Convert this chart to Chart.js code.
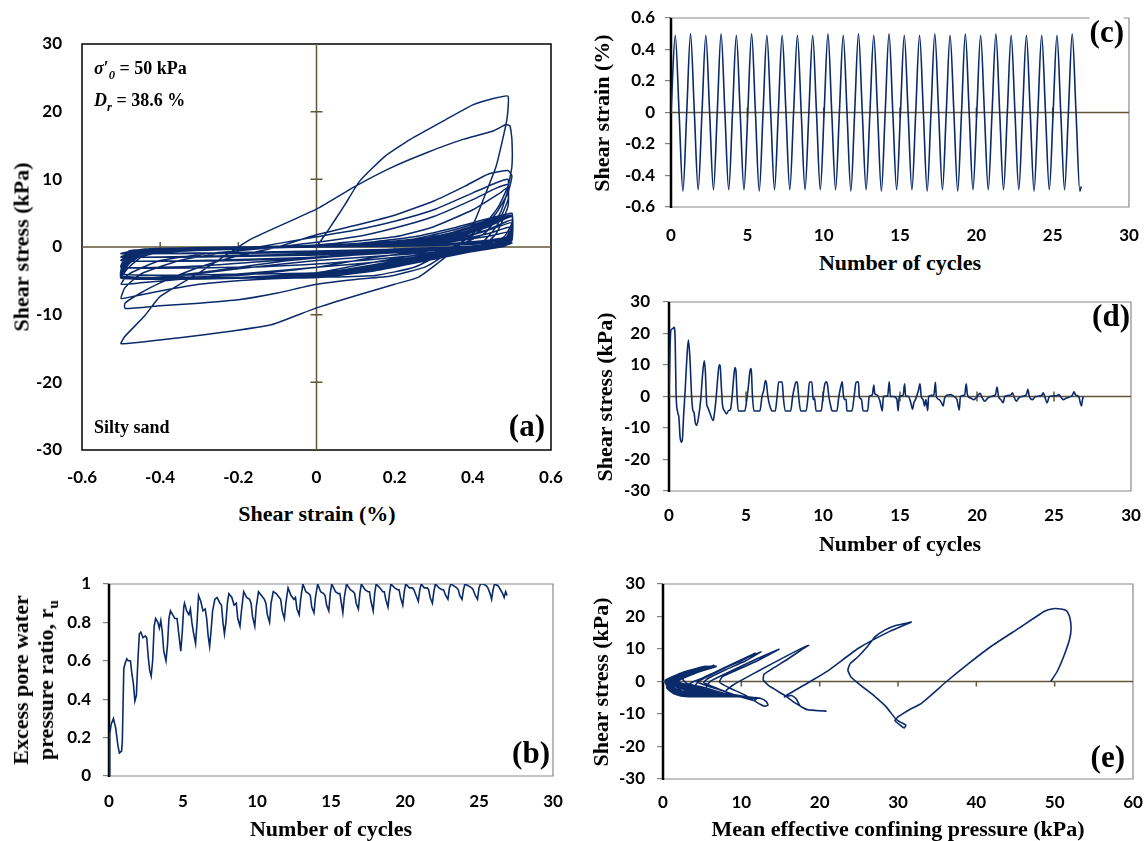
<!DOCTYPE html>
<html lang="en">
<head>
<meta charset="UTF-8">
<title>Cyclic simple shear - silty sand</title>
<script src="https://cdn.jsdelivr.net/npm/chart.js"></script>
<style>
  body { margin: 0; background: #fff; }
  #page {
    position: relative; width: 1146px; height: 841px; overflow: hidden; background: #fff;
    font-family: "Liberation Serif", "Times New Roman", serif; font-weight: bold; color: #000;
  }
  #page canvas { position: absolute; }
  .t { position: absolute; white-space: nowrap; font-size: 22px; line-height: 25px; text-align: center;
       transform: translate(-50%, -50%); }
  .t.rot { transform: translate(-50%, -50%) rotate(-90deg); }
  .tag { position: absolute; font-size: 31px; line-height: 31px; white-space: nowrap;
         transform: translate(-100%, -50%); }
  .note { position: absolute; font-size: 18px; line-height: 18px; white-space: nowrap;
          transform: translateY(-50%); }
  sub { font-size: 70%; line-height: 0; }
</style>
</head>
<body>
<div id="page">
  <canvas id="chartA" width="561" height="465" style="left:12px;top:30px"></canvas>
  <canvas id="chartC" width="534" height="241" style="left:611px;top:6px"></canvas>
  <canvas id="chartD" width="536" height="243" style="left:609px;top:288px"></canvas>
  <canvas id="chartB" width="530" height="244" style="left:39px;top:572px"></canvas>
  <canvas id="chartE" width="542" height="247" style="left:603px;top:572px"></canvas>

  <!-- axis titles -->
  <div class="t" style="left:317px;top:513px">Shear strain (%)</div>
  <div class="t rot" style="left:21px;top:247px">Shear stress (kPa)</div>
  <div class="t" style="left:900px;top:262px">Number of cycles</div>
  <div class="t rot" style="left:601px;top:113px">Shear strain (%)</div>
  <div class="t" style="left:900px;top:543px">Number of cycles</div>
  <div class="t rot" style="left:604px;top:397px">Shear stress (kPa)</div>
  <div class="t" style="left:331px;top:828px">Number of cycles</div>
  <div class="t rot" style="left:33px;top:680px">Excess pore water<br>pressure ratio, r<sub>u</sub></div>
  <div class="t" style="left:898px;top:828px">Mean effective confining pressure (kPa)</div>
  <div class="t rot" style="left:600px;top:682px">Shear stress (kPa)</div>

  <!-- notes and panel tags -->
  <div class="note" style="left:94px;top:68px"><i>σ</i>′<sub><i>0</i></sub> = 50 kPa</div>
  <div class="note" style="left:94px;top:100px"><i>D</i><sub><i>r</i></sub> = 38.6 %</div>
  <div class="note" style="left:94px;top:427px">Silty sand</div>
  <div class="tag" style="left:545px;top:425px">(a)</div>
  <div class="tag" style="left:1124px;top:31px;background:#fff">(c)</div>
  <div class="tag" style="left:1130px;top:315px">(d)</div>
  <div class="tag" style="left:550px;top:752px">(b)</div>
  <div class="tag" style="left:1125px;top:756px">(e)</div>
</div>

<script>
// (a) shear strain (%) vs shear stress (kPa), in test order
const strainStressLoops = [
  [0,0],[0.03,2.5],[0.07,6],[0.11,9.7],[0.175,13.4],[0.24,15.9],[0.33,18.8],[0.4,21],[0.45,21.9],[0.49,22.3],
  [0.487,18.8],[0.46,12],[0.43,7.5],[0.406,4],[0.37,0.5],[0.33,-1.5],[0.26,-4.5],[0.2,-5.5],[0.1,-7.2],[0,-9],[-0.116,-11.5],[-0.225,-12.5],[-0.35,-13.4],[-0.5,-14.3],
  [-0.49,-13.2],[-0.44,-10.2],[-0.4,-7.3],[-0.3,-3.8],[-0.17,1.1],[0,5.6],[0.1,9],[0.19,11.7],[0.28,13.9],[0.375,15.9],[0.45,17.1],[0.485,18.1],[0.495,17.9],
  [0.5,15.9],[0.5,11.9],[0.49,9],[0.466,6],[0.44,4],[0.4,2],[0.36,0.1],[0.28,-2.9],[0.19,-4.3],[0.1,-4.8],[0,-5.5],[-0.1,-6.8],[-0.2,-7.8],[-0.3,-8.3],[-0.4,-8.7],[-0.49,-9.1],
  [-0.49,-8.3],[-0.45,-6.8],[-0.4,-5.3],[-0.3,-3],[-0.2,-1.3],[-0.1,0],[0,1.8],[0.1,3.2],[0.2,4.7],[0.3,6.8],[0.38,9],[0.44,10.8],[0.49,11.3],
  [0.5,10.5],[0.49,8],[0.46,5],[0.42,2.5],[0.35,0],[0.25,-3],[0.15,-4.2],[0,-4.5],[-0.15,-4.8],[-0.3,-5.5],[-0.4,-6.5],[-0.47,-7.3],[-0.5,-7.6],
  [-0.49,-6],[-0.45,-4],[-0.35,-2],[-0.2,-0.5],[0,1.5],[0.1,2.5],[0.2,3.8],[0.3,5.5],[0.4,8],[0.46,9.5],[0.49,10],
  [0.49,8.5],[0.47,5],[0.43,2],[0.35,0],[0.25,-1.5],[0.1,-2.5],[-0.1,-3.5],[-0.3,-4.5],[-0.45,-5.3],[-0.5,-5.5],
  [-0.48,-4],[-0.4,-2],[-0.25,-0.8],[-0.1,0],[0.1,1.5],[0.2,2.8],[0.3,4.5],[0.4,7],[0.46,8.7],[0.49,9.2],
  [0.49,7],[0.46,3],[0.42,0.5],[0.35,-0.5],[0.2,-1.2],[0,-2],[-0.2,-3.2],[-0.35,-4.3],[-0.45,-4.6],[-0.5,-4.6],
  [-0.48,-2],[-0.4,-0.8],[-0.2,-0.3],[0,0.3],[0.2,1.5],[0.3,3],[0.4,5.5],[0.47,8],[0.49,8.8],
  [0.49,6],[0.46,2],[0.42,0],[0.3,-0.5],[0.1,-1.2],[-0.1,-2.2],[-0.3,-3.8],[-0.42,-4.5],[-0.5,-4.6],
  [-0.48,-3],[-0.44,-1.2],[-0.3,-0.4],[-0.1,0],[0.1,0.5],[0.25,1.5],[0.35,2.8],[0.44,4.2],[0.5,5],
  [0.5,3.5],[0.48,1.5],[0.42,0.2],[0.3,-0.8],[0.15,-2.2],[0,-3.8],[-0.2,-4.5],[-0.5,-4.6],
  [-0.48,-2.5],[-0.44,-1],[-0.3,-0.3],[-0.1,0],[0.1,0.4],[0.25,1.2],[0.35,2.5],[0.44,4],[0.5,4.7],
  [0.5,3],[0.48,1],[0.42,0],[0.3,-1],[0.15,-2.6],[0,-4],[-0.2,-4.6],[-0.5,-4.6],
  [-0.48,-2.2],[-0.44,-0.8],[-0.3,-0.2],[-0.1,0.1],[0.1,0.3],[0.25,1],[0.35,2.2],[0.44,3.8],[0.5,4.7],
  [0.5,2.5],[0.48,0.8],[0.42,-0.1],[0.3,-1.2],[0.15,-2.8],[0,-4.2],[-0.2,-4.6],[-0.5,-4.6],
  [-0.48,-2],[-0.44,-0.7],[-0.3,-0.2],[-0.1,0],[0.1,0.2],[0.25,0.9],[0.35,2],[0.44,3.6],[0.5,4.7],
  [0.5,2.2],[0.48,0.6],[0.42,-0.2],[0.3,-1.4],[0.15,-3],[0,-4.3],[-0.2,-4.6],[-0.5,-4.6],
  [-0.48,-1.8],[-0.44,-0.6],[-0.3,-0.3],[-0.1,-0.1],[0.1,0.2],[0.25,0.8],[0.35,1.8],[0.44,3.4],[0.5,4.7],
  [0.5,2],[0.48,0.5],[0.42,-0.3],[0.3,-1.5],[0.15,-3.2],[0,-4.4],[-0.2,-4.6],[-0.5,-4.6],
  [-0.48,-1.6],[-0.44,-0.5],[-0.3,-0.2],[-0.1,0],[0.1,0.1],[0.25,0.7],[0.35,1.6],[0.44,3.3],[0.5,4.7],
  [0.5,1.8],[0.48,0.4],[0.42,-0.3],[0.3,-1.6],[0.15,-3.3],[0,-4.5],[-0.2,-4.6],[-0.5,-4.6],
  [-0.48,-1.5],[-0.44,-0.5],[-0.3,-0.3],[-0.1,-0.1],[0.1,0.1],[0.25,0.6],[0.35,1.5],[0.44,3.2],[0.5,4.7],
  [0.5,1.6],[0.48,0.3],[0.42,-0.4],[0.3,-1.8],[0.15,-3.5],[0,-4.5],[-0.2,-4.6],[-0.5,-4.6],
  [-0.48,-1.4],[-0.44,-0.5],[-0.3,-0.2],[-0.1,0],[0.1,0.1],[0.25,0.5],[0.35,1.2],[0.44,2.5],[0.5,3.6],
  [0.5,1.5],[0.48,0.3],[0.42,-0.3],[0.3,-1.5],[0.15,-3],[0,-4.3],[-0.2,-4.6],[-0.5,-4.6],
  [-0.48,-1.3],[-0.44,-0.4],[-0.3,-0.2],[-0.1,0],[0.1,0.1],[0.25,0.5],[0.35,1.3],[0.44,3],[0.5,4.7],
  [0.5,1.4],[0.48,0.2],[0.42,-0.4],[0.3,-1.7],[0.15,-3.4],[0,-4.4],[-0.2,-4.6],[-0.5,-4.6],
  [-0.48,-1.2],[-0.44,-0.4],[-0.3,-0.2],[-0.1,0],[0.1,0.1],[0.25,0.4],[0.35,1.1],[0.44,2.6],[0.5,4],
  [0.5,1.2],[0.48,0.2],[0.42,-0.4],[0.3,-1.4],[0.15,-2.8],[0,-3.8],[-0.2,-4],[-0.5,-4],
  [-0.48,-1.1],[-0.44,-0.4],[-0.3,-0.2],[-0.1,0],[0.1,0.1],[0.25,0.4],[0.35,1.1],[0.44,2.6],[0.5,4],
  [0.5,1],[0.48,0.1],[0.42,-0.5],[0.3,-1.6],[0.15,-3],[0,-4.2],[-0.2,-4.5],[-0.5,-4.5],
  [-0.48,-1],[-0.44,-0.4],[-0.3,-0.2],[-0.1,0],[0.1,0.2],[0.25,0.5],[0.35,1.3],[0.44,3],[0.5,4.5],
  [0.5,1],[0.48,0.1],[0.42,-0.3],[0.3,-1],[0.15,-1.8],[0,-2.5],[-0.2,-3],[-0.5,-3],
  [-0.48,-0.8],[-0.44,-0.3],[-0.3,-0.1],[0,0],[0.25,0.2],[0.44,0.5],[0.5,0.6],
  [0.48,0.2],[0.3,-0.5],[0.15,-1.5],[0,-3],[-0.2,-4.2],[-0.5,-4.3],
  [-0.48,-0.6],[-0.3,-0.2],[0,0],[0.25,0.4],[0.35,1],[0.44,2.5],[0.5,4],
  [0.5,1],[0.48,0.2],[0.3,-0.3],[0,-0.8],[-0.5,-1],
  [-0.44,-0.4],[-0.2,-0.1],[0.2,0.2],[0.44,0.7],[0.5,1],
  [0.46,0.2],[0.2,-0.4],[0,-1],[-0.5,-1.5],
  [-0.44,-0.5],[-0.2,-0.1],[0.2,0.3],[0.35,0.9],[0.44,2],[0.5,3],
  [0.48,0.6],[0.3,-0.3],[0.1,-1.2],[-0.2,-2],[-0.5,-2],
  [-0.44,-0.4],[-0.2,0],[0.2,0.2],[0.44,0.8],[0.5,1.2],
  [0.46,0.2],[0.2,-0.5],[0,-1.2],[-0.5,-1.5],
  [-0.44,-0.3],[0,0],[0.3,0.5],[0.44,1.6],[0.5,2.3],
  [0.47,0.4],[0.2,-0.3],[0,-0.8],[-0.5,-1],
  [-0.44,-0.4],[0,0],[0.3,0.3],[0.5,1.2],
  [0.46,0.2],[0.2,-0.6],[0,-1.5],[-0.3,-2],[-0.5,-2],
  [-0.44,-0.3],[0,0],[0.3,0.2],[0.5,0.6],
  [0.4,0],[0,-0.6],[-0.5,-1],
  [-0.44,-0.3],[0,0],[0.3,0.4],[0.44,1],[0.5,1.5],
  [0.46,0.3],[0.2,-0.5],[0,-1.5],[-0.3,-2.8],[-0.49,-3],[-0.47,-1.5]
];

// (c) number of cycles vs shear strain (%)
const strainHistory = [
  [0,0],[0.28,0.49],[0.53,0],[0.78,-0.5],
  [1.03,0],[1.28,0.5],[1.53,0],[1.78,-0.49],
  [2.03,0],[2.28,0.49],[2.53,0],[2.78,-0.49],
  [3.03,0],[3.28,0.5],[3.53,0],[3.78,-0.49],
  [4.03,0],[4.28,0.49],[4.53,0],[4.78,-0.49],
  [5.03,0],[5.28,0.5],[5.53,0],[5.78,-0.5],
  [6.03,0],[6.28,0.49],[6.53,0],[6.78,-0.49],
  [7.03,0],[7.28,0.49],[7.53,0],[7.78,-0.49],
  [8.03,0],[8.28,0.49],[8.53,0],[8.78,-0.49],
  [9.03,0],[9.28,0.49],[9.53,0],[9.78,-0.49],
  [10.03,0],[10.28,0.5],[10.53,0],[10.78,-0.49],
  [11.03,0],[11.28,0.49],[11.53,0],[11.78,-0.5],
  [12.03,0],[12.28,0.5],[12.53,0],[12.78,-0.49],
  [13.03,0],[13.28,0.49],[13.53,0],[13.78,-0.5],
  [14.03,0],[14.28,0.5],[14.53,0],[14.78,-0.49],
  [15.03,0],[15.28,0.49],[15.53,0],[15.78,-0.49],
  [16.03,0],[16.28,0.49],[16.53,0],[16.78,-0.5],
  [17.03,0],[17.28,0.5],[17.53,0],[17.78,-0.49],
  [18.03,0],[18.28,0.49],[18.53,0],[18.78,-0.5],
  [19.03,0],[19.28,0.5],[19.53,0],[19.78,-0.49],
  [20.03,0],[20.28,0.49],[20.53,0],[20.78,-0.49],
  [21.03,0],[21.28,0.5],[21.53,0],[21.78,-0.49],
  [22.03,0],[22.28,0.49],[22.53,0],[22.78,-0.49],
  [23.03,0],[23.28,0.49],[23.53,0],[23.78,-0.5],
  [24.03,0],[24.28,0.49],[24.53,0],[24.78,-0.49],
  [25.03,0],[25.28,0.49],[25.53,0],[25.78,-0.49],
  [26.03,0],[26.28,0.5],[26.53,0],[26.78,-0.5],[26.87,-0.47]
];

// (d) number of cycles vs shear stress (kPa)
const stressHistory = [
  [0,0],[0.07,15.8],[0.12,21],[0.25,21.5],[0.33,22],[0.4,18],[0.46,0.9],[0.56,-4.9],[0.64,-6.5],[0.72,-12.9],[0.82,-14.5],[0.88,-13],[0.95,-6],
  [1.05,2],[1.14,10.4],[1.26,17.9],[1.36,12],[1.47,0],[1.55,-4.4],[1.62,-5],[1.71,-8.4],[1.79,-9.2],[1.92,-6.5],
  [2.06,-1],[2.18,7],[2.29,11.3],[2.36,8],[2.45,-2.5],[2.51,-3.4],[2.63,-4.9],[2.87,-7.6],[2.96,-5],
  [3.05,-1],[3.15,5],[3.26,10.1],[3.32,9.8],[3.4,3],[3.48,-3],[3.6,-4.5],[3.74,-5.5],[3.86,-4.5],[4.0,-4],
  [4.1,0],[4.2,6],[4.28,9.2],[4.35,8],[4.42,0],[4.5,-4.6],[4.92,-4.6],
  [5.05,-1],[5.15,3],[5.29,8.9],[5.34,8.6],[5.42,0],[5.52,-4.6],[5.9,-4.6],
  [6.04,0],[6.15,2],[6.26,5.1],[6.32,4.5],[6.42,0],[6.55,-3],[6.7,-4.6],[6.9,-4.6],
  [7.02,0],[7.12,4.6],[7.35,4.6],[7.42,0],[7.55,-4.6],[7.9,-4.6],
  [8.03,0],[8.15,3],[8.25,4.7],[8.33,4.4],[8.42,0],[8.55,-4.6],[8.9,-4.6],
  [9.03,0],[9.12,4.6],[9.28,4.6],[9.36,-1],[9.45,-0.5],[9.55,-4.6],[9.88,-4.6],
  [10.0,0],[10.12,4],[10.22,4.7],[10.3,3.5],[10.38,0],[10.5,-3],[10.6,-4.6],[10.9,-4.6],
  [11.03,0],[11.15,3],[11.25,4.7],[11.32,0.5],[11.4,-1],[11.5,-0.8],[11.55,-4.6],[11.88,-4.6],
  [12.02,0],[12.15,4.5],[12.3,4.7],[12.36,0],[12.5,-1],[12.6,-4.5],[12.9,-4.6],
  [13.0,0],[13.2,0.5],[13.3,3.6],[13.36,1],[13.5,0.5],[13.7,-1.5],[13.85,-4.6],
  [13.92,0],[14.2,0.2],[14.3,4.7],[14.38,0],[14.6,0],[14.8,-1],[14.88,-4.6],
  [14.95,0],[15.2,0.3],[15.3,4],[15.36,0.3],[15.55,0],[15.7,-2],[15.82,-4],[15.9,-2],
  [16.0,-1],[16.2,2],[16.3,4],[16.38,0],[16.5,-1],[16.6,-3],[16.68,-1],[16.8,-4.5],
  [16.86,0],[17.2,0.5],[17.3,4.5],[17.36,0],[17.55,-1],[17.7,-2],[17.8,-3],[17.9,-0.5],
  [18.1,0.5],[18.3,0.6],[18.5,0],[18.7,-1],[18.85,-4.3],
  [18.92,0],[19.2,0.5],[19.3,4],[19.38,0.5],[19.6,-0.5],[19.8,-1],
  [20.0,0],[20.2,1],[20.35,-0.5],[20.5,-1.5],[20.7,-0.5],[20.9,0],
  [21.2,0.5],[21.3,3],[21.4,0],[21.55,-1],[21.7,-2],[21.8,0],
  [22.2,0.5],[22.3,1.2],[22.4,0],[22.55,-1.5],[22.7,-0.5],[22.9,0],
  [23.2,0.5],[23.3,2.3],[23.4,0],[23.6,-1],[23.8,0],
  [24.2,0.3],[24.3,1.2],[24.4,0],[24.55,-2],[24.7,0],
  [25.2,0.3],[25.3,0.6],[25.5,-0.5],[25.6,-1],[25.8,-0.5],[26.0,-0.2],
  [26.2,0.5],[26.3,1.5],[26.4,0.5],[26.6,0],[26.78,-3],[26.85,-1],[26.9,0]
];

// (b) number of cycles vs excess pore water pressure ratio
const poreRatioHistory = [
  [0,0],[0.05,0.22],[0.15,0.27],[0.3,0.3],[0.45,0.25],[0.6,0.16],[0.7,0.12],[0.85,0.13],[0.9,0.18],
  [1.0,0.56],[1.1,0.59],[1.2,0.61],[1.3,0.6],[1.45,0.6],[1.55,0.53],[1.65,0.48],[1.75,0.39],[1.85,0.42],[1.95,0.6],
  [2.05,0.74],[2.15,0.75],[2.3,0.72],[2.45,0.73],[2.55,0.72],[2.65,0.62],[2.75,0.55],[2.85,0.52],[2.95,0.6],
  [3.05,0.78],[3.15,0.82],[3.3,0.8],[3.4,0.77],[3.5,0.81],[3.6,0.75],[3.7,0.65],[3.85,0.6],[3.95,0.68],
  [4.05,0.82],[4.15,0.86],[4.3,0.84],[4.45,0.82],[4.6,0.82],[4.7,0.75],[4.85,0.65],[4.95,0.75],
  [5.05,0.88],[5.1,0.9],[5.25,0.86],[5.4,0.84],[5.5,0.87],[5.6,0.8],[5.7,0.75],[5.85,0.69],[5.95,0.8],
  [6.05,0.94],[6.2,0.91],[6.35,0.86],[6.5,0.87],[6.6,0.82],[6.7,0.73],[6.8,0.675],[6.9,0.76],
  [7.0,0.86],[7.15,0.92],[7.3,0.93],[7.5,0.9],[7.6,0.89],[7.7,0.8],[7.8,0.74],[7.9,0.8],
  [8.0,0.9],[8.1,0.95],[8.3,0.93],[8.45,0.89],[8.6,0.9],[8.7,0.82],[8.85,0.78],[8.95,0.86],
  [9.1,0.96],[9.3,0.93],[9.5,0.92],[9.6,0.9],[9.7,0.83],[9.85,0.78],[9.95,0.88],
  [10.1,0.96],[10.3,0.94],[10.5,0.92],[10.6,0.9],[10.7,0.84],[10.85,0.8],[10.95,0.9],
  [11.1,0.96],[11.3,0.95],[11.5,0.93],[11.6,0.92],[11.7,0.86],[11.85,0.82],[11.95,0.9],
  [12.1,0.98],[12.3,0.94],[12.5,0.92],[12.6,0.93],[12.7,0.87],[12.85,0.84],[12.95,0.92],
  [13.1,1.0],[13.3,0.96],[13.5,0.95],[13.6,0.94],[13.7,0.88],[13.85,0.85],[13.95,0.93],
  [14.1,1.0],[14.3,0.96],[14.5,0.95],[14.6,0.94],[14.7,0.89],[14.85,0.86],[14.95,0.95],
  [15.05,1.0],[15.3,0.96],[15.5,0.95],[15.6,0.95],[15.7,0.9],[15.8,0.85],[15.9,0.93],
  [16.05,1.0],[16.3,0.97],[16.5,0.96],[16.6,0.95],[16.7,0.9],[16.85,0.87],[16.95,0.95],
  [17.05,1.0],[17.3,0.97],[17.5,0.96],[17.6,0.96],[17.7,0.91],[17.85,0.86],[17.95,0.95],
  [18.05,1.0],[18.3,0.98],[18.5,0.96],[18.6,0.96],[18.7,0.92],[18.85,0.88],[18.95,0.95],
  [19.05,1.0],[19.3,0.98],[19.5,0.97],[19.6,0.97],[19.7,0.93],[19.85,0.89],[19.95,0.96],
  [20.05,1.0],[20.3,0.98],[20.5,0.98],[20.6,0.97],[20.75,0.94],[20.9,0.91],[21.0,0.97],
  [21.1,1.0],[21.3,0.98],[21.5,0.98],[21.6,0.97],[21.7,0.93],[21.85,0.9],[21.95,0.96],
  [22.05,1.0],[22.3,0.98],[22.5,0.97],[22.6,0.97],[22.75,0.94],[22.9,0.92],[23.0,0.98],
  [23.1,1.0],[23.3,0.99],[23.5,0.98],[23.6,0.97],[23.7,0.94],[23.85,0.92],[23.95,0.97],
  [24.05,1.0],[24.3,0.99],[24.5,0.98],[24.6,0.97],[24.75,0.94],[24.9,0.92],[25.0,0.98],
  [25.1,1.0],[25.3,1.0],[25.5,0.99],[25.6,0.98],[25.75,0.95],[25.85,0.92],[25.95,0.97],
  [26.05,1.0],[26.3,0.99],[26.45,0.97],[26.6,0.95],[26.7,0.93],[26.8,0.96],[26.9,0.94]
];

// (e) mean effective confining pressure (kPa) vs shear stress (kPa), in test order
const stressPath = [
  [49.5,0],[50.3,3],[51.2,8],[51.9,13],[52.1,16.5],[51.9,20],[51.5,21.8],[50.8,22.3],[49.8,22.4],[48.7,21.6],
  [45.5,16.5],[42,11],[39,5.5],[36.2,0],[33,-6.7],[31.5,-8.6],[30,-10.9],[29.6,-12],[30.1,-13.1],[30.8,-14.3],[31,-13.4],[30.3,-12.5],[29.7,-11.5],
  [28.5,-7.8],[27.1,-4.7],[25.2,-1.1],[24,1.4],[23.6,3.5],[23.9,5.5],[24.9,7.6],[25.9,10.2],[27.1,13.8],[28.3,15.8],[29.7,17.2],[31,17.9],[31.7,18.3],
  [29,15.5],[25,10.3],[21,3.2],[18.8,0],[15.5,-4.7],[16.4,-4.3],[17,-5.3],[17.5,-7.5],[18.3,-8.6],[19.5,-8.9],[20.8,-9.1],
  [18.5,-8.7],[16.8,-6.5],[15.5,-4.2],[13.5,-1.3],[12.8,0.5],[12.9,2.2],[14,4],[16,7],[18.2,10.6],[18.6,11.1],
  [18.2,10.8],[15.5,7.5],[12,3],[9,-1],[8,-3],[8.5,-4.4],[11,-4.8],[12.5,-5.2],[13.2,-6.2],[13.4,-7.3],[13,-7.6],[12.4,-7],
  [10.5,-4.2],[8.5,-2],[7.2,-0.2],[7.6,1.5],[9.5,3.6],[12,6.3],[14.8,9.9],
  [14.5,9.6],[12,7],[8.5,3],[6,0],[5.5,-2],[6.2,-3.8],[8,-4.5],[11,-4.9],[11.9,-5.4],[11.6,-5.8],
  [9.5,-4.4],[7,-2.2],[5.2,-0.3],[5.8,1],[8,3.6],[10.5,6.3],[12.5,9.1],
  [12.2,8.8],[9.5,6],[6.5,2.5],[4.5,0],[4,-2],[5,-3.8],[7,-4.6],[10.5,-4.7],[11.2,-4.9],
  [9,-4],[6.5,-2],[4.5,-0.3],[5,1],[7.5,3.8],[10,6.4],[11.8,8.7],
  [11.5,8.4],[8.5,5],[5.5,1.5],[3.5,-0.5],[3.5,-2.5],[5,-4],[7.5,-4.6],[10,-4.7],
  [8,-3.8],[5.5,-2],[3,-0.5],[2.5,0.8],[4.5,3.2],[6.5,5],[5,3.5],[3,1.5],[1.8,0],[2.5,-2],[4.5,-4],[6.5,-4.6],[9.5,-4.6],
  [7,-3.5],[4,-1.5],[2,-0.2],[2.5,1.5],[4.8,3.8],[6.8,4.7],[4.5,3],[2.5,1],[1.5,-0.5],[3,-3],[5,-4.6],[9,-4.6],
  [6,-3],[3,-1],[1.5,0],[2.5,2],[5,4.2],[6.8,4.7],[4,2.5],[2,0.5],[1.2,-0.5],[2.5,-3],[4.5,-4.6],[8.5,-4.6],
  [5.5,-3],[2.5,-1],[1.2,0.2],[2.5,2.3],[5.5,4.7],[3.8,2.5],[1.8,0.3],[1,-0.8],[2.2,-3.2],[4,-4.6],[8,-4.6],
  [5,-3],[2,-0.8],[1,0.3],[2.8,2.8],[5.8,4.7],[3.5,2],[1.5,0],[0.9,-1],[2,-3.3],[3.8,-4.6],[7.5,-4.6],
  [4.5,-3],[1.8,-0.8],[0.9,0.3],[2.5,2.7],[6,4.7],[3.2,1.8],[1.2,0],[0.8,-1.2],[1.8,-3.3],[3.5,-4.6],[7,-4.6],
  [4,-2.8],[1.5,-0.6],[0.8,0.3],[2.5,2.8],[5.5,4.7],[2.8,1.5],[1,-0.2],[0.7,-1.2],[1.6,-3.5],[3.2,-4.6],[6.5,-4.6],
  [3.5,-2.5],[1.2,-0.5],[0.6,0.3],[2.2,2.5],[4.5,3.6],[2.2,1.2],[0.8,-0.2],[0.6,-1.5],[1.5,-3.5],[3,-4.6],[6,-4.6],
  [3,-2.5],[1,-0.5],[0.5,0.4],[2.5,2.8],[5.5,4.7],[2.5,1.2],[0.8,-0.3],[0.5,-1.8],[1.4,-3.6],[2.8,-4.6],[5.5,-4.6],
  [2.8,-2.3],[0.9,-0.4],[0.5,0.5],[2.5,2.6],[5,4],[2.2,1],[0.6,-0.2],[0.5,-2],[1.5,-3.2],[3,-4],[5,-4],
  [2.5,-2],[0.8,-0.3],[0.4,0.4],[2.5,2.7],[5,4],[2,0.8],[0.6,-0.3],[0.5,-2],[1.4,-3.8],[2.5,-4.5],[4.5,-4.5],
  [2.2,-2],[0.7,-0.3],[0.4,0.5],[2.8,3],[6,4.5],[2.5,1],[0.5,-0.3],[0.6,-1.8],[1.5,-3],[3,-3],
  [1.5,-1],[0.5,0],[0.8,0.6],[0.5,0.2],[0.4,-1],[1.2,-2.5],[2.5,-4.3],[3.5,-4.3],
  [1.8,-2.5],[0.5,-0.2],[0.4,0.5],[2.5,2.8],[5,4],[2,1],[0.5,0],[0.5,-0.5],[1,-1],
  [0.5,-0.3],[0.5,0.3],[1.2,1],[0.5,0.2],[0.4,-0.5],[1,-1.5],
  [0.4,-0.3],[0.4,0.5],[2,2],[3.5,3],[1.5,0.8],[0.4,-0.2],[0.6,-1],[1.5,-2],
  [0.4,-0.5],[0.4,0.4],[1.2,1.2],[0.4,0.2],[0.5,-0.8],[1.4,-1.5],
  [0.4,-0.4],[0.4,0.5],[1.8,1.6],[2.8,2.3],[1,0.6],[0.3,-0.2],[0.6,-0.8],[1,-1],
  [0.3,-0.3],[0.3,0.4],[1.2,1.2],[0.3,0.1],[0.6,-1.2],[1.5,-2],
  [0.3,-0.5],[0.3,0.3],[0.8,0.6],[0.3,0],[0.4,-0.5],[1,-1],
  [0.3,-0.3],[0.3,0.4],[1.2,1.5],[0.4,0.2],[0.6,-1.2],[2,-3],[0.5,-0.5],[0.3,0]
];

const lineColor = '#0b2a6a';
const tickFont = { family: 'Lato', size: 17, weight: 'bold' };
const tickText = v => String(Math.round(v * 100) / 100);

// plot-area border: full black box for (a), Excel-style frame for the others
const frame = {
  id: 'frame',
  beforeDatasetsDraw(chart, args, opts) {
    const { ctx, chartArea: a } = chart;
    ctx.save();
    if (opts.box) {
      ctx.strokeStyle = '#000';
      ctx.lineWidth = 1.5;
      ctx.strokeRect(a.left, a.top, a.right - a.left, a.bottom - a.top);
    } else {
      ctx.strokeStyle = '#8a8a8a';
      ctx.lineWidth = 1.2;
      ctx.beginPath();
      ctx.moveTo(a.left, a.top);
      ctx.lineTo(a.right, a.top);
      ctx.lineTo(a.right, a.bottom);
      ctx.lineTo(a.left, a.bottom);
      ctx.stroke();
      ctx.strokeStyle = '#000';
      ctx.lineWidth = 2.5;
      ctx.beginPath();
      ctx.moveTo(a.left, a.top);
      ctx.lineTo(a.left, a.bottom + 1);
      ctx.stroke();
    }
    ctx.restore();
  }
};

// zero axis lines with small tick marks
const zeroAxes = {
  id: 'zeroAxes',
  beforeDatasetsDraw(chart, args, opts) {
    if (!opts.show) return;
    const { ctx, chartArea: a, scales: { x, y } } = chart;
    const y0 = y.getPixelForValue(0);
    const x0 = x.getPixelForValue(0);
    ctx.save();
    ctx.strokeStyle = '#615638';
    ctx.lineWidth = 1.5;
    ctx.beginPath();
    ctx.moveTo(a.left, y0);
    ctx.lineTo(a.right, y0);
    x.ticks.forEach(t => {
      const px = x.getPixelForValue(t.value);
      if (px <= a.left + 1 || px >= a.right - 1 || (opts.vertical && t.value === 0)) return;
      ctx.moveTo(px, y0 - opts.up);
      ctx.lineTo(px, y0 + opts.down);
    });
    if (opts.vertical) {
      ctx.moveTo(x0, a.top);
      ctx.lineTo(x0, a.bottom);
      y.ticks.forEach(t => {
        const py = y.getPixelForValue(t.value);
        if (py <= a.top + 1 || py >= a.bottom - 1 || t.value === 0) return;
        ctx.moveTo(x0 - 6, py);
        ctx.lineTo(x0 + 6, py);
      });
    }
    ctx.stroke();
    ctx.restore();
  }
};

function drawPanel(id, points, o) {
  return new Chart(document.getElementById(id), {
    type: 'scatter',
    data: {
      datasets: [{
        data: points.map(p => ({ x: p[0], y: p[1] })),
        showLine: true,
        borderColor: lineColor,
        borderWidth: o.lw || 1.6,
        pointRadius: 0,
        tension: o.tension,
        cubicInterpolationMode: o.mono ? 'monotone' : 'default',
        fill: false
      }]
    },
    options: {
      responsive: false,
      animation: false,
      events: [],
      layout: { padding: { top: o.padTop, right: o.padRight, left: 0, bottom: 0 } },
      plugins: {
        legend: { display: false },
        tooltip: { enabled: false },
        frame: { box: o.box },
        zeroAxes: o.zero
      },
      scales: {
        x: {
          type: 'linear', min: o.x[0], max: o.x[1],
          ticks: { stepSize: o.x[2], font: tickFont, color: '#000', padding: o.xPad, maxRotation: 0, autoSkip: false, callback: tickText },
          grid: { display: false, drawTicks: false },
          border: { display: false },
          afterFit: s => { s.height = o.xh; s.paddingLeft = 0; s.paddingRight = 0; }
        },
        y: {
          type: 'linear', min: o.y[0], max: o.y[1],
          ticks: { stepSize: o.y[2], font: tickFont, color: '#000', padding: o.yPad, autoSkip: false, callback: tickText },
          grid: o.box
            ? { display: false, drawTicks: false }
            : { display: true, drawOnChartArea: false, drawTicks: true, tickLength: 6, tickColor: '#808080', lineWidth: 1.2 },
          border: { display: false },
          afterFit: s => { s.width = o.yw; s.paddingTop = 0; s.paddingBottom = 0; }
        }
      }
    },
    plugins: [frame, zeroAxes]
  });
}

drawPanel('chartA', strainStressLoops, {
  x: [-0.6, 0.6, 0.2], y: [-30, 30, 10], yw: 70, xh: 45, padTop: 14, padRight: 22,
  xPad: 17, yPad: 20, box: true, tension: 0.15, lw: 1.5,
  zero: { show: true, vertical: true, up: 5, down: 5 }
});
drawPanel('chartC', strainHistory, {
  x: [0, 30, 5], y: [-0.6, 0.6, 0.2], yw: 60, xh: 40, padTop: 12, padRight: 16,
  xPad: 18, yPad: 10, box: false, tension: 0.4, mono: true,
  zero: { show: true, vertical: false, up: 5, down: 5 }
});
drawPanel('chartD', stressHistory, {
  x: [0, 30, 5], y: [-30, 30, 10], yw: 60, xh: 40, padTop: 14, padRight: 14,
  xPad: 14, yPad: 13, box: false, tension: 0.4, mono: true,
  zero: { show: true, vertical: false, up: 5, down: 5 }
});
drawPanel('chartB', poreRatioHistory, {
  x: [0, 30, 5], y: [0, 1, 0.2], yw: 70, xh: 40, padTop: 12, padRight: 16,
  xPad: 15, yPad: 12, box: false, tension: 0,
  zero: { show: false }
});
drawPanel('chartE', stressPath, {
  x: [0, 60, 10], y: [-30, 30, 10], yw: 60, xh: 40, padTop: 12, padRight: 12,
  xPad: 13, yPad: 12, box: false, tension: 0.15,
  zero: { show: true, vertical: false, up: 0, down: 5 }
});
</script>
</body>
</html>
